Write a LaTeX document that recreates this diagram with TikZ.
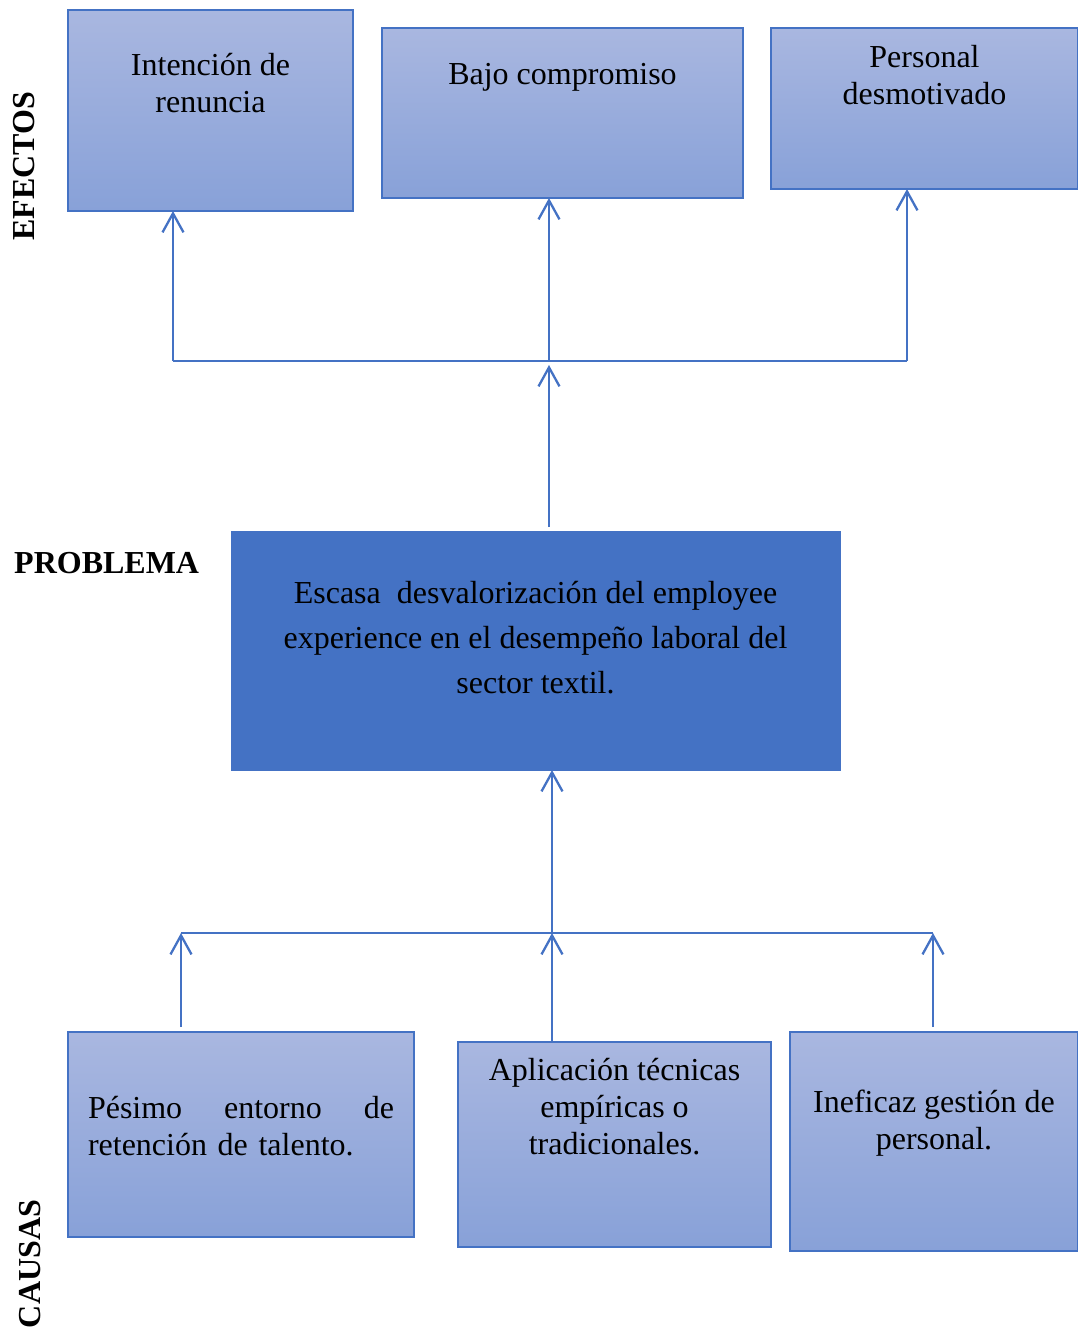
\documentclass[tikz,border=0pt]{standalone}
\usepackage{fontspec}
\setmainfont{Liberation Serif}
\usetikzlibrary{positioning,calc}
\usetikzlibrary{arrows.meta}

\definecolor{boxtop}{RGB}{169,183,224}
\definecolor{boxbot}{RGB}{136,161,216}
\definecolor{accent}{RGB}{68,114,196}

\tikzset{
  grad/.style={rectangle, draw=accent, line width=1.3pt, top color=boxtop, bottom color=boxbot, inner sep=0pt, outer sep=0pt, anchor=north west},
  txt/.style={font=\fontsize{32}{37}\selectfont, align=center, inner sep=0pt, anchor=base},
  side/.style={font=\fontsize{32}{37}\selectfont\bfseries, inner sep=0pt},
  bus/.style={draw=accent, line width=1.5pt},
  uparrow/.style={draw=accent, line width=2.3pt, -{Straight Barb[length=19pt,width=21pt]}},
}

\begin{document}
\begin{tikzpicture}[x=1pt,y=-1pt]
\useasboundingbox (0,0) rectangle (1078,1328);

% efectos
\node[grad, minimum width=285pt, minimum height=201pt, label={[txt, yshift=-102pt]north:Intención de\\renuncia}] (renuncia) at (68,10) {};
\node[grad, minimum width=361pt, minimum height=170pt, label={[txt, yshift=-56pt]north:Bajo compromiso}] (compromiso) at (382,28) {};
\node[grad, minimum width=307pt, minimum height=161pt, label={[txt, yshift=-76pt]north:Personal\\desmotivado}] (desmotivado) at (771,28) {};

% problema
\node[rectangle, draw=accent, fill=accent, minimum width=609pt, minimum height=239pt, inner sep=0pt, outer sep=0pt, anchor=north west,
  label={[txt, font=\fontsize{32}{45}\selectfont, yshift=-162pt]north:Escasa\ \ desvalorización del employee\\experience en el desempeño laboral del\\sector textil.}] (problema) at (231,531) {};

% causas
\node[grad, minimum width=346pt, minimum height=205pt, label={[txt, text width=306pt, align=left, yshift=-86pt]north:Pésimo\hfill entorno\hfill de\\retención de talento.}] (retencion) at (68,1032) {};
\node[grad, minimum width=313pt, minimum height=205pt, label={[txt, yshift=-112pt]north:Aplicación técnicas\\empíricas o\\tradicionales.}] (tecnicas) at (458,1042) {};
\node[grad, minimum width=288pt, minimum height=219pt, label={[txt, yshift=-117pt]north:Ineficaz gestión de\\personal.}] (gestion) at (790,1032) {};

% side labels
\node[side, rotate=90] (efectos) at (24,166) {EFECTOS};
\node[side, anchor=base west] (problabel) at (14,573) {PROBLEMA};
\node[side, rotate=90] (causas) at (30,1264) {CAUSAS};

% upper connectors
\coordinate (effL) at (173,361);
\coordinate (effM) at (549,361);
\coordinate (effR) at (907,361);
\draw[bus] (effL) -- (effR);
\draw[uparrow] (effL) -- (effL |- renuncia.south);
\draw[uparrow] (effM) -- (effM |- compromiso.south);
\draw[uparrow] (effR) -- (effR |- desmotivado.south);
\draw[uparrow, shorten <=4pt, shorten >=4pt] (effM |- problema.north) -- (effM);

% lower connectors
\coordinate (cauL) at (181,933);
\coordinate (cauM) at (552,933);
\coordinate (cauR) at (933,933);
\draw[bus] (cauL) -- (cauR);
\draw[uparrow, shorten <=5pt] (cauL |- retencion.north) -- (cauL);
\draw[uparrow] (cauM |- tecnicas.north) -- (cauM);
\draw[uparrow, shorten <=5pt] (cauR |- gestion.north) -- (cauR);
\draw[uparrow] (cauM) -- (cauM |- problema.south);
\end{tikzpicture}
\end{document}
